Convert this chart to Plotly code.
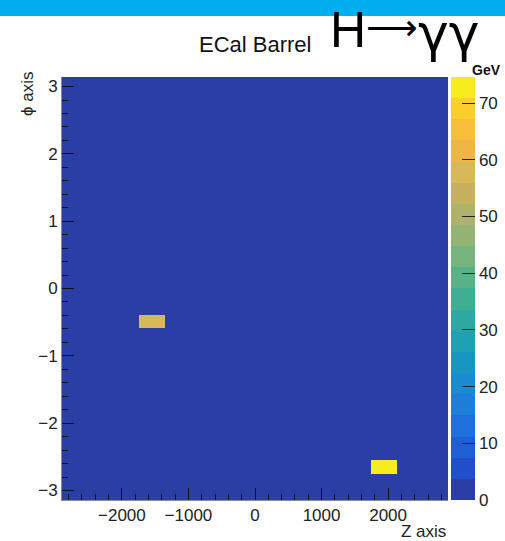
import numpy as np
import plotly.graph_objects as go

# ---- data ----
hit_z = [-1550.0, 1930.0]          # Z position of the two energy deposits
hit_phi = [-0.49, -2.65]           # phi position
hit_energy = [57.5, 74.6]          # GeV

z_range = [-2900.0, 2900.0]
phi_range = [-np.pi, np.pi]
n_z_bins = 15
n_phi_bins = 32
e_max = 74.6

x_tick_vals = [-2000, -1000, 0, 1000, 2000]
y_tick_vals = [-3, -2, -1, 0, 1, 2, 3]
cb_tick_vals = [0, 10, 20, 30, 40, 50, 60, 70]

# ---- histogram ----
x_edges = np.linspace(z_range[0], z_range[1], n_z_bins + 1)
y_edges = np.linspace(phi_range[0], phi_range[1], n_phi_bins + 1)
H, _, _ = np.histogram2d(hit_phi, hit_z, bins=[y_edges, x_edges], weights=hit_energy)

# ---- discrete palette (20 contour bands) ----
band_colors = [
    "#2A3EA6", "#1F4FCB", "#1D60D6", "#1F70DA", "#1E7FD8",
    "#1A8BD0", "#1896C3", "#1EA1B3", "#2DA8A3", "#3FAF94",
    "#58B288", "#76B47D", "#93B474", "#AEB26A", "#C8B15E",
    "#D6B958", "#EFB545", "#F8BE3A", "#FBCE2E", "#F8EC1E",
]
nb = len(band_colors)
colorscale = []
for i, c in enumerate(band_colors):
    colorscale.append([i / nb, c])
    colorscale.append([(i + 1) / nb, c])

L, R, T, B = 62, 57, 77, 41
W, Hh = 505, 541
pw, ph = W - L - R, Hh - T - B

def px_x(p):
    return (p - L) / pw

def px_y(p):
    return (Hh - B - p) / ph

font_fam = "Liberation Sans, Arial, sans-serif"

fig = go.Figure()
fig.add_trace(go.Heatmap(
    z=H, x=x_edges, y=y_edges,
    zmin=0, zmax=e_max,
    colorscale=colorscale,
    hoverinfo="skip",
    colorbar=dict(
        x=px_x(451), xanchor="left", xref="paper",
        y=0.5, yanchor="middle", len=1, lenmode="fraction",
        thickness=24, thicknessmode="pixels",
        outlinewidth=0,
        ticks="inside", ticklen=13, tickwidth=1.3, tickcolor="#222",
        tickvals=cb_tick_vals,
        tickfont=dict(family=font_fam, size=17, color="#222"),
        xpad=0, ypad=0,
    ),
))

fig.update_xaxes(
    range=z_range, tickvals=x_tick_vals,
    ticks="inside", ticklen=12, tickwidth=1.2, tickcolor="#111",
    minor=dict(ticks="inside", ticklen=6, dtick=200, tick0=0, tickcolor="#111", tickwidth=1),
    showgrid=False, zeroline=False,
    showline=True, linecolor="#8a8a9a", linewidth=1,
    tickfont=dict(family=font_fam, size=17, color="#222"),
)
fig.update_yaxes(
    range=phi_range, tickvals=y_tick_vals,
    ticks="inside", ticklen=12, tickwidth=1.2, tickcolor="#111",
    minor=dict(ticks="inside", ticklen=6, dtick=0.2, tick0=0, tickcolor="#111", tickwidth=1),
    showgrid=False, zeroline=False,
    showline=True, linecolor="#8a8a9a", linewidth=1,
    tickfont=dict(family=font_fam, size=17, color="#222"),
)

annotations = [
    dict(text="ECal Barrel", x=px_x(255), y=px_y(45), xanchor="center", yanchor="middle",
         font=dict(family=font_fam, size=22, color="#111")),
    dict(text="H", x=px_x(328), y=px_y(30), xanchor="left", yanchor="middle",
         font=dict(family=font_fam, size=50, color="#000")),
    dict(text="\u27f6", x=px_x(392), y=px_y(27), xanchor="center", yanchor="middle",
         font=dict(family="DejaVu Sans, sans-serif", size=36, color="#000")),
    dict(text="\u03b3\u03b3", x=px_x(449), y=px_y(33), xanchor="center", yanchor="middle",
         font=dict(family="DejaVu Sans, sans-serif", size=52, color="#000")),
    dict(text="<b>GeV</b>", x=px_x(470), y=px_y(70), xanchor="left", yanchor="middle",
         font=dict(family=font_fam, size=14, color="#111")),
    dict(text="\u03d5 axis", x=px_x(27), y=px_y(70), xanchor="center", yanchor="top",
         textangle=-90, font=dict(family=font_fam, size=17, color="#222")),
    dict(text="Z axis", x=px_x(448), y=px_y(531), xanchor="right", yanchor="middle",
         font=dict(family=font_fam, size=17, color="#222")),
]
for a in annotations:
    a.update(xref="paper", yref="paper", showarrow=False)

fig.update_layout(
    width=W, height=Hh,
    margin=dict(l=L, r=R, t=T, b=B, autoexpand=False),
    paper_bgcolor="white", plot_bgcolor="#2A3EA6",
    annotations=annotations,
    shapes=[dict(type="rect", xref="paper", yref="paper",
                 x0=px_x(0), x1=px_x(W), y0=px_y(16), y1=px_y(0),
                 fillcolor="#00AEEF", line=dict(width=0), layer="below")],
    showlegend=False,
)

fig.write_html("out.html")
